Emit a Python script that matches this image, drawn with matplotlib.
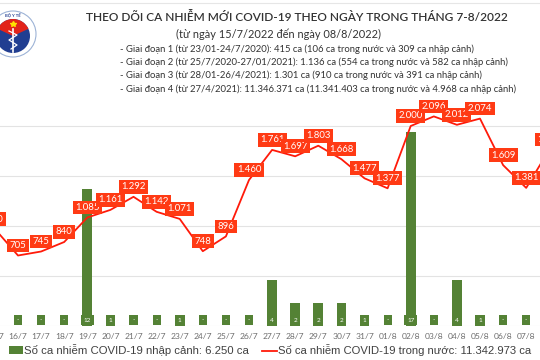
import numpy as np
import matplotlib.pyplot as plt
from matplotlib.patches import Circle, Wedge, Rectangle
from matplotlib.lines import Line2D

# -------------------------
# Data
# -------------------------
days = ["15/7", "16/7", "17/7", "18/7", "19/7", "20/7", "21/7", "22/7", "23/7",
        "24/7", "25/7", "26/7", "27/7", "28/7", "29/7", "30/7", "31/7", "01/8",
        "02/8", "03/8", "04/8", "05/8", "06/8", "07/8", "08/8"]
imported = [0, 0, 0, 0, 12, 1, 0, 0, 1, 0, 0, 0, 4, 2, 2, 2, 1, 0,
            17, 0, 4, 1, 0, 0, 0]
domestic = [970, 705, 745, 840, 1085, 1161, 1292, 1142, 1071, 748, 896, 1460,
            1761, 1697, 1803, 1668, 1477, 1377, 2000, 2096, 2012, 2074, 1609,
            1381, 1764]

title = "THEO DÕI CA NHIỄM MỚI COVID-19 THEO NGÀY TRONG THÁNG 7-8/2022"
subtitle = "(từ ngày 15/7/2022 đến ngày 08/8/2022)"
notes = [
    "- Giai đoạn 1 (từ 23/01-24/7/2020): 415 ca (106 ca trong nước và 309 ca nhập cảnh)",
    "- Giai đoạn 2 (từ 25/7/2020-27/01/2021): 1.136 ca (554 ca trong nước và 582 ca nhập cảnh)",
    "- Giai đoạn 3 (từ 28/01-26/4/2021): 1.301 ca (910 ca trong nước và 391 ca nhập cảnh)",
    "- Giai đoạn 4 (từ 27/4/2021): 11.346.371 ca (11.341.403 ca trong nước và 4.968 ca nhập cảnh)",
]
legend_bar = "Số ca nhiễm COVID-19 nhập cảnh: 6.250 ca"
legend_line = "Số ca nhiễm COVID-19 trong nước: 11.342.973 ca"

GREEN = "#548235"
RED = "#FF1A0A"
LABEL_RED = "#FF3A14"
W, H = 540, 360


def fmt(v):
    return f"{v:,}".replace(",", ".")


fig = plt.figure(figsize=(W / 100, H / 100), dpi=100)
renderer = fig.canvas.get_renderer()


def fit(t, width):
    # scale font so the text spans the given pixel width
    bb = t.get_window_extent(renderer)
    t.set_fontsize(t.get_fontsize() * width / bb.width)


# -------------------------
# Chart (wider than the picture, first/last day cut off)
# -------------------------
step = 23.1
x0 = 18 - step - step / 2          # pixel of x = -0.5
ax = fig.add_axes([x0 / W, 34 / H, 25 * step / W, 230 / H])
x = np.arange(len(days))

ax.bar(x, imported, width=0.42, color=GREEN, zorder=2)
ax.set_xlim(-0.5, len(days) - 0.5)
ax.set_ylim(0, 20.2)
for i, v in enumerate(imported):
    ax.annotate(str(v) if v else "-", (i, 0), xytext=(0, 4.3),
                textcoords="offset points", ha="center", va="center",
                fontsize=4.6, color="white", family="Lato", zorder=3,
                bbox=dict(boxstyle="square,pad=0.45", fc=GREEN, ec="none"))

ax2 = ax.twinx()
ax2.set_ylim(0, 2300)
for g in [0, 500, 1000, 1500, 2000]:
    ax.axhline(g / 2300 * 20.2, color="#E3E3E3", lw=0.8, zorder=0)
ax2.plot(x, domestic, color=RED, lw=1.3, zorder=3)
for i, v in enumerate(domestic):
    ax2.annotate(fmt(v), (i, v), xytext=(0, 7.2), textcoords="offset points",
                 ha="center", va="center", fontsize=6.9, color="white",
                 family="Lato", zorder=4,
                 bbox=dict(boxstyle="square,pad=0.25", fc=LABEL_RED, ec="none"))

for a in (ax, ax2):
    for s in a.spines.values():
        s.set_visible(False)
    a.set_yticks([])
ax.set_xticks(x)
ax.set_xticklabels(days, fontsize=6.1, color="#6E6E6E", family="Lato")
ax.tick_params(axis="x", length=0, pad=5)

# -------------------------
# Header, logo and legend in pixel coordinates
# -------------------------
ov = fig.add_axes([0, 0, 1, 1], zorder=10)
ov.set_xlim(0, W)
ov.set_ylim(H, 0)
ov.axis("off")
ov.patch.set_alpha(0)

ov.add_line(Line2D([0, W], [2.5, 2.5], color="#E6E6E6", lw=0.8))

# logo
ov.add_patch(Circle((13, 34), 23, fc="white", ec="#9DB3D6", lw=0.8))
ov.add_patch(Circle((13, 36), 17, fc="#213E91", ec="none"))
ov.add_patch(Wedge((13, 36), 17, 205, 335, fc="#E2231A", ec="none"))
ov.plot([13], [24], marker="*", color="#FFE000", ms=4)
ov.plot([13, 13], [29, 52], color="white", lw=1.2)
ov.plot([9, 17, 9, 17, 11], [31, 35, 40, 45, 49], color="white", lw=0.9)
ov.text(13, 15, "BỘ Y TẾ", ha="center", va="center", fontsize=3,
        color="#213E91", family="Lato", weight="bold")

t = ov.text(86, 17, title, ha="left", va="center", fontsize=10,
            color="#333333", family="Lato", weight="semibold")
fit(t, 421)
t = ov.text(176, 34, subtitle, ha="left", va="center", fontsize=10,
            color="#333333", family="Lato")
fit(t, 205)
note_texts = []
for k, line in enumerate(notes):
    note_texts.append(ov.text(120, 49 + k * 13.3, line, ha="left", va="center",
                              fontsize=7.4, color="#333333", family="Lato"))
fit(note_texts[3], 395)
for nt in note_texts:
    nt.set_fontsize(note_texts[3].get_fontsize())

ov.add_patch(Rectangle((9, 346), 14, 8, fc=GREEN, ec="none"))
t = ov.text(24, 350, legend_bar, ha="left", va="center", fontsize=8.3,
            color="#404040", family="Liberation Sans")
fit(t, 224)
ov.add_line(Line2D([262, 277], [351, 351], color=RED, lw=1.3))
t = ov.text(278, 350, legend_line, ha="left", va="center", fontsize=8.3,
            color="#404040", family="Liberation Sans")
fit(t, 254)

fig.savefig("out.png", dpi=100)
